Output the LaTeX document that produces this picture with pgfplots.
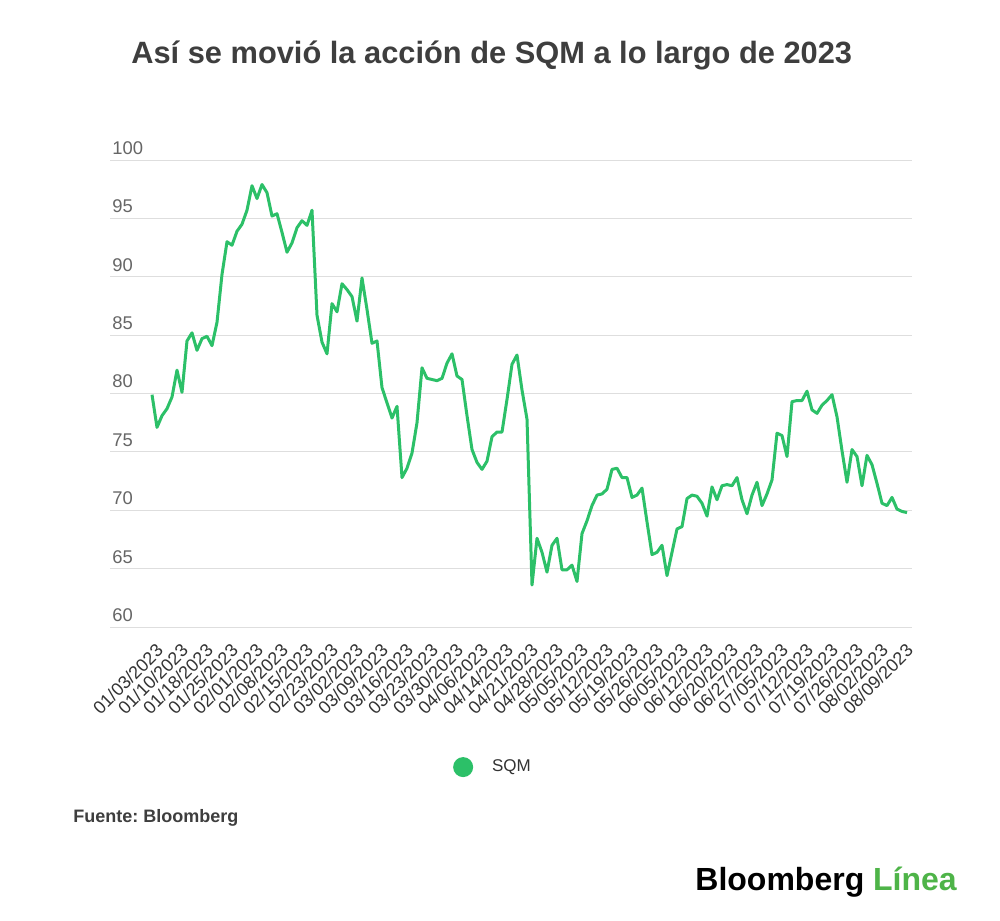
\documentclass[border=0pt]{standalone}
\usepackage{fontspec}
\setmainfont{Liberation Sans}
\usepackage{pgfplots}
\usepackage{pgfplotstable}
\pgfplotsset{compat=1.18}
\definecolor{sqmgreen}{RGB}{44,192,104}
\definecolor{logogreen}{RGB}{78,180,72}
\definecolor{titlegray}{RGB}{62,62,62}
\definecolor{labgray}{RGB}{102,102,102}
\definecolor{xlabgray}{RGB}{51,51,51}
\definecolor{gridgray}{RGB}{222,222,222}
\pgfplotstableread{
i v
0 79.9
1 77.1
2 78.1
3 78.7
4 79.7
5 82.0
6 80.1
7 84.5
8 85.2
9 83.7
10 84.7
11 84.9
12 84.1
13 86.1
14 90.2
15 93.0
16 92.7
17 93.9
18 94.5
19 95.7
20 97.8
21 96.7
22 97.9
23 97.2
24 95.2
25 95.4
26 93.8
27 92.1
28 92.9
29 94.2
30 94.8
31 94.4
32 95.7
33 86.7
34 84.4
35 83.4
36 87.7
37 87.0
38 89.4
39 88.9
40 88.3
41 86.2
42 89.9
43 87.2
44 84.3
45 84.5
46 80.5
47 79.2
48 77.9
49 78.9
50 72.8
51 73.6
52 74.9
53 77.5
54 82.2
55 81.3
56 81.2
57 81.1
58 81.3
59 82.6
60 83.4
61 81.5
62 81.2
63 78.1
64 75.2
65 74.1
66 73.5
67 74.2
68 76.3
69 76.7
70 76.7
71 79.5
72 82.5
73 83.3
74 80.3
75 77.8
76 63.6
77 67.6
78 66.4
79 64.7
80 67.0
81 67.6
82 64.9
83 64.9
84 65.3
85 63.9
86 68.0
87 69.1
88 70.4
89 71.3
90 71.4
91 71.8
92 73.5
93 73.6
94 72.8
95 72.8
96 71.1
97 71.3
98 71.9
99 69.0
100 66.2
101 66.4
102 67.0
103 64.4
104 66.4
105 68.4
106 68.6
107 71.0
108 71.3
109 71.2
110 70.6
111 69.5
112 72.0
113 70.9
114 72.1
115 72.2
116 72.1
117 72.8
118 70.9
119 69.7
120 71.3
121 72.4
122 70.4
123 71.4
124 72.6
125 76.6
126 76.4
127 74.6
128 79.3
129 79.4
130 79.4
131 80.2
132 78.6
133 78.3
134 79.0
135 79.4
136 79.9
137 78.0
138 75.1
139 72.4
140 75.2
141 74.6
142 72.1
143 74.7
144 73.9
145 72.3
146 70.6
147 70.4
148 71.1
149 70.1
150 69.9
151 69.8
}\sqmdata
\begin{document}
\frenchspacing
\begin{tikzpicture}
\useasboundingbox (0,0) rectangle (500pt,-460pt);
\fill[white] (0,0) rectangle (500pt,-460pt);
\node[anchor=base, font=\fontsize{15.4pt}{18pt}\selectfont\bfseries, text=titlegray, inner sep=0pt] at (245.85pt,-32pt) {Así se movió la acción de SQM a lo largo de 2023};
\begin{axis}[
  at={(55pt,-313.5pt)}, anchor=south west,
  scale only axis, width=401pt, height=233.5pt,
  xmin=-8.4, xmax=152, ymin=60, ymax=100,
  axis line style={draw=none},
  major tick length=0pt,
  ytick={60,65,...,100},
  ymajorgrids, grid style={color=gridgray, line width=0.5pt},
  xtick={0,5,...,150},
  xticklabels={01/03/2023,01/10/2023,01/18/2023,01/25/2023,02/01/2023,02/08/2023,02/15/2023,02/23/2023,03/02/2023,03/09/2023,03/16/2023,03/23/2023,03/30/2023,04/06/2023,04/14/2023,04/21/2023,04/28/2023,05/05/2023,05/12/2023,05/19/2023,05/26/2023,06/05/2023,06/12/2023,06/20/2023,06/27/2023,07/05/2023,07/12/2023,07/19/2023,07/26/2023,08/02/2023,08/09/2023},
  /pgf/number format/assume math mode=true,
  y tick label style={anchor=south west, inner sep=0pt, xshift=1pt, yshift=2.5pt, font=\fontsize{9.2pt}{11pt}\selectfont, text=labgray},
  x tick label style={xshift=4pt, yshift=-10pt, rotate=45, anchor=east, inner sep=0pt, font=\fontsize{9pt}{10pt}\selectfont, text=xlabgray},
  legend style={at={(0.4763,-0.30)}, anchor=center, draw=none, fill=none, inner sep=0pt, column sep=0pt,
    nodes={inner sep=0pt, font=\fontsize{8.5pt}{10pt}\selectfont, text=xlabgray}},
  legend image code/.code={\fill[sqmgreen, draw=none] (5pt,0pt) circle (5pt); \path[draw=none] (0pt,0pt) -- (19.5pt,0pt);},
  clip=false,
]
\addplot[sqmgreen, line width=1.5pt, line join=round] table[x=i, y=v] {\sqmdata};
\addlegendentry{SQM}
\end{axis}
\node[anchor=base west, font=\fontsize{9pt}{11pt}\selectfont\bfseries, text=titlegray, inner sep=0pt] at (36.5pt,-411pt) {Fuente: Bloomberg};
\node[anchor=base west, font=\fontsize{16pt}{19pt}\selectfont\bfseries, inner sep=0pt] at (347.5pt,-445pt) {\textcolor{black}{Bloomberg} \textcolor{logogreen}{Línea}};
\end{tikzpicture}
\end{document}
